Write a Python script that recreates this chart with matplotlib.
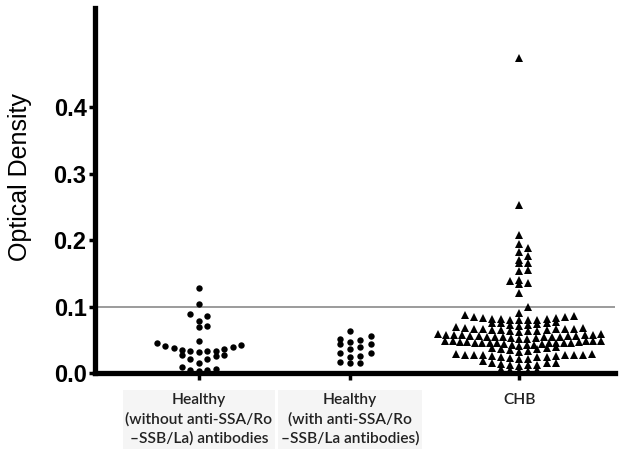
import numpy as np
import matplotlib
matplotlib.use('Agg')
import matplotlib.pyplot as plt

# group names (x tick labels)
groups = ['Healthy\n(without anti-SSA/Ro\n\u2013SSB/La) antibodies',
          'Healthy\n(with anti-SSA/Ro\n\u2013SSB/La antibodies)',
          'CHB']

# optical density values
healthy_neg = [0.128, 0.104, 0.089, 0.086, 0.079, 0.071, 0.069, 0.048,
               0.045, 0.043, 0.041, 0.040, 0.038, 0.036, 0.033, 0.033,
               0.032, 0.034, 0.035, 0.027, 0.026, 0.028, 0.022, 0.021,
               0.015, 0.010, 0.006, 0.005, 0.005, 0.004]

healthy_pos = [0.063, 0.050, 0.052, 0.056, 0.044, 0.044, 0.047, 0.036,
               0.039, 0.030, 0.031, 0.025, 0.026, 0.017, 0.016, 0.016]

chb = [0.475, 0.253, 0.208, 0.194, 0.188, 0.183, 0.176, 0.170, 0.166,
       0.166, 0.156, 0.154, 0.141, 0.138, 0.135, 0.134, 0.120,
       0.091, 0.099,
       0.080, 0.080, 0.080, 0.080, 0.081, 0.081, 0.082, 0.083, 0.083,
       0.084, 0.085, 0.086, 0.087,
       0.071, 0.072, 0.073, 0.074, 0.075, 0.075, 0.076, 0.077,
       0.062, 0.063, 0.064, 0.064, 0.065, 0.065, 0.065, 0.066, 0.066,
       0.066, 0.067, 0.067, 0.068, 0.068, 0.069,
       0.051, 0.052, 0.053, 0.053, 0.054, 0.054, 0.055, 0.055, 0.055,
       0.055, 0.056, 0.056, 0.056, 0.056, 0.057, 0.057, 0.057, 0.058,
       0.058, 0.059, 0.059,
       0.041, 0.042, 0.043, 0.043, 0.044, 0.044, 0.045, 0.045, 0.045,
       0.045, 0.046, 0.046, 0.046, 0.046, 0.047, 0.047, 0.047, 0.048,
       0.048, 0.048, 0.049, 0.049,
       0.032, 0.034, 0.035, 0.036, 0.037, 0.038, 0.038, 0.039,
       0.021, 0.022, 0.023, 0.024, 0.025, 0.025, 0.026, 0.026, 0.027,
       0.027, 0.027, 0.028, 0.028, 0.028, 0.029, 0.029,
       0.011, 0.012, 0.012, 0.013, 0.014, 0.015, 0.015, 0.016, 0.018,
       0.003, 0.004, 0.005, 0.005, 0.006]

positions = [1.0, 2.0, 3.12]
cutoff = 0.1


def scatter_offsets(values, step=0.06, max_half=0.54, bin_h=0.01, origin=0.0):
    # column scatter like prism: bin by value, spread each bin sideways
    values = np.asarray(values)
    xs = np.zeros(len(values))
    bins = np.floor((values - origin) / bin_h).astype(int)
    for b in np.unique(bins):
        idx = np.where(bins == b)[0]
        idx = idx[np.argsort(values[idx], kind='stable')]
        n = len(idx)
        half = int(np.ceil((n - 1) / 2))
        s = step if half == 0 else min(step, max_half / half)
        for i, j in enumerate(idx):
            k = (i + 1) // 2
            xs[j] = k * s if i % 2 == 1 else -k * s
    return xs


fig = plt.figure(figsize=(6.24, 4.59), dpi=100)
ax = fig.add_axes([0.152, 0.187, 0.834, 0.796])

ax.axhline(cutoff, color='#8a8a8a', lw=1.2, zorder=1)

layout = [
    (positions[0], healthy_neg, 'o', 4.6, dict(step=0.056, bin_h=0.016, origin=0.030)),
    (positions[1], healthy_pos, 'o', 4.6, dict(step=0.068, bin_h=0.011, origin=0.0135)),
    (positions[2], chb, '^', 5.2, dict(step=0.06, bin_h=0.01, origin=0.0)),
]
for pos, vals, mk, ms, opts in layout:
    off = scatter_offsets(vals, **opts)
    ax.plot(pos + off, vals, linestyle='none', marker=mk, markersize=ms,
            color='black', markeredgewidth=0, zorder=2)

ax.set_xlim(0.311, 3.755)
ax.set_ylim(0, 0.55)

for side in ['top', 'right']:
    ax.spines[side].set_visible(False)
for side in ['left', 'bottom']:
    ax.spines[side].set_linewidth(3.8)

ax.set_yticks([0.0, 0.1, 0.2, 0.3, 0.4])
ax.set_yticklabels(['0.0', '0.1', '0.2', '0.3', '0.4'],
                   fontsize=17, fontweight='bold', family='Liberation Sans')
ax.tick_params(axis='y', direction='out', length=4, width=2.5, pad=2)

ax.set_xticks(positions)
ax.set_xticklabels(groups, fontsize=11.2, family='Lato', fontweight='semibold',
                   color='#222222', linespacing=1.45)
ax.tick_params(axis='x', direction='out', length=5, width=2.5, pad=9)
for lab in ax.get_xticklabels()[:2]:
    lab.set_bbox(dict(facecolor='#f5f5f5', edgecolor='none', pad=2))

fig.text(20 / 624, 1 - 177 / 459, 'Optical Density', rotation=90,
         ha='center', va='center', fontsize=18, family='Liberation Sans')

fig.savefig('out.png', dpi=100)
